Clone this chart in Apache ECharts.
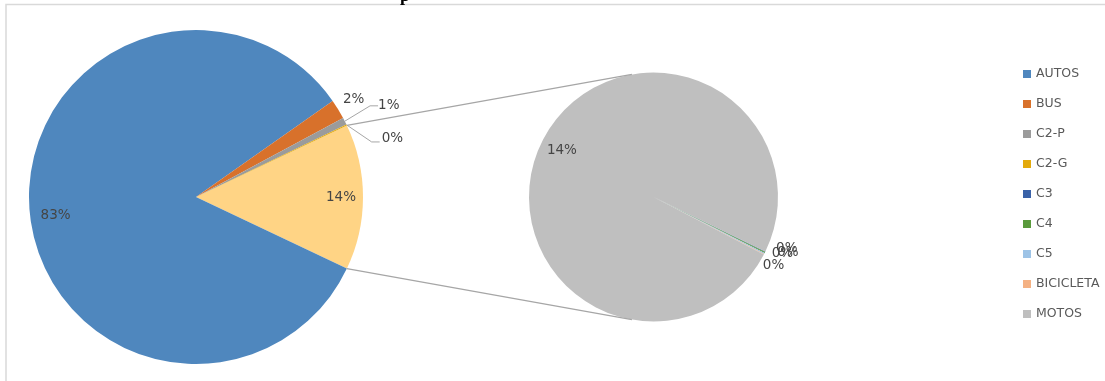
<!DOCTYPE html>
<html><head><meta charset="utf-8">
<script src="https://cdn.jsdelivr.net/npm/echarts/dist/echarts.min.js"></script>
<style>html,body{margin:0;padding:0;background:#fff}#c{width:1105px;height:381px}</style>
</head><body><div id="c"></div>
<script>
// ---- data ----
const categories = ['AUTOS', 'BUS', 'C2-P', 'C2-G', 'C3', 'C4', 'C5', 'BICICLETA', 'MOTOS'];
const values = [83.2, 1.9, 0.7, 0.1, 0.01, 0.02, 0.02, 0.01, 14.04];
const mainCategories = ['AUTOS', 'BUS', 'C2-P', 'C2-G'];
const secondCategories = ['C3', 'C4', 'C5', 'BICICLETA', 'MOTOS'];
const otherName = 'Otros';

// ---- styles ----
const colors = {
  'AUTOS': '#4F87BE', 'BUS': '#D8712B', 'C2-P': '#9B9B9B', 'C2-G': '#E3AA0C',
  'C3': '#3A62A8', 'C4': '#5A9A3C', 'C5': '#9DC3E6', 'BICICLETA': '#F4B183', 'MOTOS': '#BFBFBF'
};
const otherColor = '#FFD485';
const labelFont = { fontFamily: 'DejaVu Sans', fontSize: 13.5, color: '#454545' };

const valueOf = n => values[categories.indexOf(n)];
const total = values.reduce((a, b) => a + b, 0);
const otherVal = secondCategories.reduce((a, n) => a + valueOf(n), 0);
const pct = v => Math.round(v / total * 100) + '%';

// geometry
const MC = [196, 197], MR = 167;
const SC = [653.5, 197], SR = 124.5;
const mainStart = otherVal / total * 360 / 2;
const secondStart = -26;

const mainData = [{ name: otherName, value: otherVal, itemStyle: { color: otherColor } }]
  .concat(mainCategories.map(n => ({ name: n, value: valueOf(n), itemStyle: { color: colors[n] } })));
const secondData = secondCategories.map(n => ({ name: n, value: valueOf(n), itemStyle: { color: colors[n] } }));

const insideMain = [otherName, 'AUTOS'];
const outsideCfg = {
  'BUS': { line: false, length: 8, length2: 0 },
  'C2-P': { line: true, length: 25, length2: 8 },
  'C2-G': { line: true, length: 22, length2: 8 }
};
const idx = n => mainData.findIndex(d => d.name === n);

function mainSeries() {
  return {
    type: 'pie', center: MC, radius: [0, MR], startAngle: mainStart, clockwise: true,
    avoidLabelOverlap: false, silent: true, animation: false,
    itemStyle: { borderWidth: 0 },
    data: mainData.map(d => {
      const c = outsideCfg[d.name];
      return Object.assign({}, d, {
        label: c ? Object.assign({ show: true, position: 'outside', distanceToLabelLine: 3 }, labelFont, { formatter: pct(d.value) }) : { show: false },
        labelLine: c ? { show: c.line, length: c.length, length2: c.length2, lineStyle: { color: '#A6A6A6', width: 1 } } : { show: false }
      });
    }),
    labelLayout: function (p) {
      if (p.dataIndex === idx('BUS')) {
        return { x: p.labelRect.x - 5, y: p.labelRect.y - 6, align: 'left', verticalAlign: 'top' };
      }
      if (p.dataIndex === idx('C2-P')) {
        return { x: p.labelRect.x, y: p.labelRect.y - 4, align: 'left', verticalAlign: 'top' };
      }
      if (p.dataIndex !== idx('C2-G')) return;
      const pts = p.labelLinePoints;
      if (!pts) return;
      const s = pts[0];
      const m = [s[0] + 25, s[1] + 17], e = [s[0] + 33, s[1] + 17];
      return { x: e[0] + 2, y: e[1] - 3, align: 'left', verticalAlign: 'middle', labelLinePoints: [s, m, e] };
    }
  };
}
function mainOverlay() {
  return {
    type: 'pie', center: MC, radius: [MR * 0.7, MR], startAngle: mainStart, clockwise: true,
    avoidLabelOverlap: false, silent: true, animation: false, z: 3,
    itemStyle: { color: 'rgba(0,0,0,0)', borderWidth: 0 },
    data: mainData.map(d => ({
      name: d.name + ' ', value: d.value,
      label: insideMain.includes(d.name) ? Object.assign({ show: true, position: 'inside', formatter: pct(d.value) }, labelFont) : { show: false },
      labelLine: { show: false }
    })),
    labelLayout: function (p) {
      if (p.dataIndex === idx('AUTOS')) {
        return { x: p.labelRect.x + 4, y: p.labelRect.y + 6, align: 'left', verticalAlign: 'top' };
      }
    }
  };
}
function secondSeries() {
  return {
    type: 'pie', center: SC, radius: [0, SR], startAngle: secondStart, clockwise: true,
    avoidLabelOverlap: false, silent: true, animation: false,
    itemStyle: { borderWidth: 0 },
    data: secondData.map(d => Object.assign({}, d, {
      label: d.name === 'MOTOS' ? { show: false } : Object.assign({ show: true, position: 'outside', formatter: pct(d.value) }, labelFont),
      labelLine: { show: false, length: 2, length2: 0 }
    })),
    labelLayout: function (p) {
      if (p.dataIndex === secondCategories.indexOf('BICICLETA')) {
        return { x: p.labelRect.x - 8, y: p.labelRect.y + 10, align: 'left', verticalAlign: 'top' };
      }
      if (p.dataIndex === secondCategories.indexOf('C3')) {
        return { x: p.labelRect.x + 4, y: p.labelRect.y - 4, align: 'left', verticalAlign: 'top' };
      }
      if (p.dataIndex === secondCategories.indexOf('C5')) {
        return { x: p.labelRect.x + 6, y: p.labelRect.y - 2, align: 'left', verticalAlign: 'top' };
      }
    }
  };
}
function secondOverlay() {
  return {
    type: 'pie', center: SC, radius: [SR * 0.6, SR], startAngle: secondStart, clockwise: true,
    avoidLabelOverlap: false, silent: true, animation: false, z: 3,
    itemStyle: { color: 'rgba(0,0,0,0)', borderWidth: 0 },
    data: secondData.map(d => ({
      name: d.name + ' ', value: d.value,
      label: d.name === 'MOTOS' ? Object.assign({ show: true, position: 'inside', formatter: pct(d.value) }, labelFont) : { show: false },
      labelLine: { show: false }
    }))
  };
}

// connector lines between the "other" slice and the secondary pie
const rad = a => a * Math.PI / 180;
const onCircle = (c, r, a) => [c[0] + r * Math.cos(rad(a)), c[1] - r * Math.sin(rad(a))];
const connA = onCircle(MC, MR, mainStart), connB = onCircle(MC, MR, -mainStart);
const connC = onCircle(SC, SR, 100), connD = onCircle(SC, SR, 260);

const chart = echarts.init(document.getElementById('c'), null, { renderer: 'canvas' });
chart.setOption({
  backgroundColor: '#fff',
  animation: false,
  legend: {
    orient: 'vertical', left: 1023, top: 67, padding: 0, itemWidth: 8, itemHeight: 8, itemGap: 16,
    icon: 'rect', selectedMode: false,
    textStyle: { fontFamily: 'DejaVu Sans', fontSize: 12.5, color: '#595959', lineHeight: 14 },
    data: categories.map(n => ({ name: n, itemStyle: { color: colors[n] } }))
  },
  graphic: [
    { type: 'rect', shape: { x: 6, y: 4.5, width: 1200, height: 500 }, style: { fill: 'none', stroke: '#D9D9D9', lineWidth: 1.5 }, silent: true, z: -1 },
    { type: 'text', x: 400, y: 5, style: { text: 'p', font: 'bold 18px "Liberation Serif"', fill: '#000', verticalAlign: 'bottom' }, silent: true },
    { type: 'line', shape: { x1: connA[0], y1: connA[1], x2: connC[0], y2: connC[1] }, style: { stroke: '#A6A6A6', lineWidth: 1.2 }, silent: true, z: 10 },
    { type: 'line', shape: { x1: connB[0], y1: connB[1], x2: connD[0], y2: connD[1] }, style: { stroke: '#A6A6A6', lineWidth: 1.2 }, silent: true, z: 10 }
  ],
  series: [mainSeries(), secondSeries(), mainOverlay(), secondOverlay()]
});
</script></body></html>
